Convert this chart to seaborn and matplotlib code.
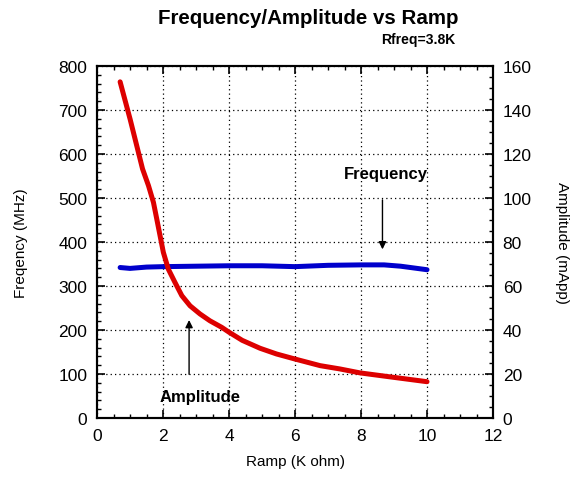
import numpy as np
import pandas as pd
import matplotlib
matplotlib.use('Agg')
import matplotlib.pyplot as plt
import seaborn as sns
from matplotlib.ticker import MultipleLocator

sns.set_style('white')
plt.rcParams['font.family'] = ['Liberation Sans', 'DejaVu Sans']
plt.rcParams['text.color'] = 'black'
plt.rcParams['axes.labelcolor'] = 'black'
plt.rcParams['xtick.color'] = 'black'
plt.rcParams['ytick.color'] = 'black'

# Amplitude (mApp, right axis)
ramp_amp = [0.7, 1.0, 1.38, 1.56, 1.71, 1.81, 1.91, 2.01, 2.16, 2.36, 2.57, 2.82, 3.12,
            3.42, 3.78, 4.0, 4.4, 4.94, 5.44, 6.0, 6.76, 7.36, 7.97, 8.98, 10.0]
amplitude = [152.8, 136.0, 113.2, 105.6, 98.0, 90.5, 82.9, 75.3, 67.7, 61.7, 55.6, 51.0, 47.3,
             44.2, 41.2, 39.0, 35.3, 31.7, 29.1, 26.8, 23.8, 22.3, 20.5, 18.5, 16.5]

# Frequency (MHz, left axis)
ramp_freq = [0.7, 1.0, 1.5, 2.0, 3.0, 4.0, 5.0, 6.0, 7.0, 8.0, 8.7, 9.2, 9.6, 10.0]
frequency = [342, 340, 343, 344, 345, 346, 346, 344, 347, 348, 348, 345, 341, 337]

df_amp = pd.DataFrame({'ramp': ramp_amp, 'amp': amplitude})
df_freq = pd.DataFrame({'ramp': ramp_freq, 'freq': frequency})

fig = plt.figure(figsize=(5.82, 4.81), dpi=100)
ax = fig.add_axes([0.1667, 0.1289, 0.6804, 0.7318])
ax2 = ax.twinx()

sns.lineplot(data=df_freq, x='ramp', y='freq', ax=ax, color='#0000cc', linewidth=3.6)
sns.lineplot(data=df_amp, x='ramp', y='amp', ax=ax2, color='#dd0000', linewidth=3.6)

ax.set_xlim(0, 12)
ax.set_ylim(0, 800)
ax2.set_ylim(0, 160)
ax.xaxis.set_major_locator(MultipleLocator(2))
ax.xaxis.set_minor_locator(MultipleLocator(0.5))
ax.yaxis.set_major_locator(MultipleLocator(100))
ax.yaxis.set_minor_locator(MultipleLocator(20))
ax2.yaxis.set_major_locator(MultipleLocator(20))
ax2.yaxis.set_minor_locator(MultipleLocator(5))

ax.grid(True, which='major', color='black', linestyle=(0, (1, 2.5)), linewidth=0.9)
ax.tick_params(axis='x', which='both', direction='in', top=True, bottom=True, labelsize=12.5, pad=7)
ax.tick_params(axis='y', which='both', direction='in', left=True, right=False, labelsize=12.5, pad=7)
ax2.tick_params(axis='y', which='both', direction='in', right=True, left=False, labelsize=12.5, pad=7)
for a in (ax, ax2):
    a.tick_params(which='major', length=6, width=1.2)
    a.tick_params(which='minor', length=3, width=1)
    for s in a.spines.values():
        s.set_color('black')
        s.set_linewidth(1.5)

ax.set_xlabel('Ramp (K ohm)', fontsize=11, labelpad=8)
ax.set_ylabel('Freqency (MHz)', fontsize=11, labelpad=22)
ax2.set_ylabel('Amplitude (mApp)', fontsize=11, rotation=270, labelpad=27)

fig.text(0.53, 0.962, 'Frequency/Amplitude vs Ramp', ha='center', va='center',
         fontsize=14.8, fontweight='bold')
fig.text(0.783, 0.917, 'Rfreq=3.8K', ha='right', va='center', fontsize=10, fontweight='bold')

arrow = dict(arrowstyle='-|>', color='black', linewidth=1, mutation_scale=11)
ax.annotate('', xy=(8.65, 377), xytext=(8.65, 502), arrowprops=arrow)
ax.text(8.75, 555, 'Frequency', ha='center', va='center', fontsize=12, fontweight='bold')
ax.annotate('', xy=(2.79, 229), xytext=(2.79, 93), arrowprops=arrow)
ax.text(3.12, 48, 'Amplitude', ha='center', va='center', fontsize=12, fontweight='bold')

fig.savefig('out.png', dpi=100)
